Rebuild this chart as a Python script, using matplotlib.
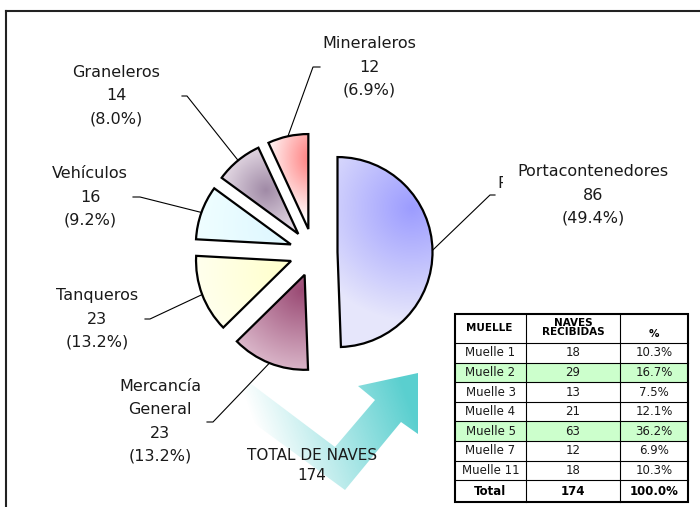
import numpy as np
import matplotlib
matplotlib.use('Agg')
import matplotlib.pyplot as plt
from matplotlib.patches import Polygon, Rectangle
from matplotlib.colors import to_rgb

# ---------------- data ----------------
categories = ['Portacontenedores', 'Mercancía\nGeneral', 'Tanqueros',
              'Vehículos', 'Graneleros', 'Mineraleros']
values = [86, 23, 23, 16, 14, 12]
total_label = 'TOTAL DE NAVES'

table_headers = ['MUELLE', 'NAVES\nRECIBIDAS', '%']
muelles = ['Muelle 1', 'Muelle 2', 'Muelle 3', 'Muelle 4', 'Muelle 5',
           'Muelle 7', 'Muelle 11']
naves = [18, 29, 13, 21, 63, 12, 18]
highlighted = ['Muelle 2', 'Muelle 5']

total = sum(values)

# ---------------- figure ----------------
W, H = 700, 507
fig = plt.figure(figsize=(7.0, 5.07), dpi=100)
ax = fig.add_axes([0, 0, 1, 1])


def Y(y):
    return H - y


xx, yy = np.meshgrid(np.arange(W) + 0.5, np.arange(H) + 0.5)


def rgba(c, a=1.0):
    return np.array(list(to_rgb(c)) + [a])


def radial(p, R, c0, c1, sx=1.0, sy=1.0):
    d = np.hypot((xx - p[0]) / sx, (yy - p[1]) / sy)
    t = np.clip(1 - d / R, 0, 1)[..., None]
    a, b = rgba(c0), rgba(c1)
    return a + (b - a) * t


def linear(p0, p1, c0, c1, a0=1.0, a1=1.0):
    dx, dy = p1[0] - p0[0], p1[1] - p0[1]
    t = ((xx - p0[0]) * dx + (yy - p0[1]) * dy) / (dx * dx + dy * dy)
    t = np.clip(t, 0, 1)[..., None]
    a, b = rgba(c0, a0), rgba(c1, a1)
    return a + (b - a) * t


def fill_image(img, clip_patch, z):
    im = ax.imshow(img, extent=(0, W, 0, H), origin='upper', aspect='auto',
                   interpolation='bilinear', zorder=z)
    im.set_clip_path(clip_patch)


# frame
ax.plot([6, 6], [Y(H), Y(11)], color='#222222', lw=1.5, zorder=1,
        solid_capstyle='projecting')
ax.plot([6, W], [Y(11), Y(11)], color='#222222', lw=1.5, zorder=1,
        solid_capstyle='projecting')

# arrow (gradient, behind everything else)
arrow_pts = [(250, 383), (335, 447), (375, 400), (358, 386), (418, 373),
             (418, 434), (401, 422), (345, 490), (229, 405)]
arrow = Polygon([(x, Y(y)) for x, y in arrow_pts], closed=True,
                facecolor='none', edgecolor='none', zorder=1)
ax.add_patch(arrow)
fill_image(linear((262, 445), (405, 392), '#5ACFCF', '#5ACFCF', 0.0, 1.0),
           arrow, 1)

# pie
wedges, _ = ax.pie(values, startangle=90, counterclock=False,
                   explode=[24] * len(values), radius=95,
                   center=(313.5, Y(252.5)), frame=True,
                   wedgeprops=dict(facecolor='none', edgecolor='black',
                                   linewidth=1.6, zorder=3))

fills = [
    radial((412, 208), 112, '#E6E6FB', '#9C9CFF'),    # Portacontenedores
    radial((302, 290), 85, '#DDBBCD', '#9A4A74'),     # Mercancia General
    radial((285, 272), 100, '#FFFFF2', '#FFFFCC'),    # Tanqueros
    radial((285, 225), 100, '#F2FFFF', '#DDF7FF'),    # Vehiculos
    radial((266, 190), 48, '#E8DEE8', '#A08AA6'),     # Graneleros
    radial((312, 158), 48, '#FFFFFF', '#FF7A7A', 1.0, 1.3),  # Mineraleros
]
for w, img in zip(wedges, fills):
    fill_image(img, w, 2)

# labels and leader lines
label_centers = [(593, 195), (160, 421.5), (97, 319), (90, 197), (116, 96),
                 (369, 67)]
leader_pts = [((490, 195), (495, 195)), ((213, 422), (207, 422)),
              ((150, 319), (145, 319)), ((140, 197), (133, 197)),
              ((187, 96), (182, 96)), ((313, 67), (320, 67))]
LS = 23.3
for w, cat, v, (cx, cy), (p1, p2) in zip(wedges, categories, values,
                                          label_centers, leader_pts):
    th = np.deg2rad(0.5 * (w.theta1 + w.theta2))
    mx = w.center[0] + w.r * np.cos(th)
    my = w.center[1] + w.r * np.sin(th)
    ax.plot([mx, p1[0], p2[0]], [my, Y(p1[1]), Y(p2[1])], color='black',
            lw=0.8, zorder=4)
    lines = cat.split('\n') + [str(v), '({:.1f}%)'.format(100 * v / total)]
    n = len(lines)
    for i, s in enumerate(lines):
        ax.text(cx, Y(cy + (i - (n - 1) / 2) * LS), s, ha='center',
                va='center', fontsize=11.5, color='#1a1a1a', zorder=5)

# clipped stray glyph near the Portacontenedores label
stray = ax.text(497.5, Y(183), categories[0][0], ha='left', va='center',
                fontsize=11.5, color='#1a1a1a', zorder=5, clip_on=True)
clip_r = Rectangle((495, Y(195)), 8.0, 30, transform=ax.transData,
                   facecolor='none', edgecolor='none')
stray.set_clip_path(clip_r)

# total
ax.text(312, Y(455), total_label, ha='center', va='center', fontsize=11,
        color='#1a1a1a', zorder=5)
ax.text(312, Y(475), str(total), ha='center', va='center', fontsize=11,
        color='#1a1a1a', zorder=5)

# ---------------- table ----------------
col_x = [455, 526, 620, 688]
top, head_bot = 314, 343
row_h = 19.6
rows_y = [head_bot + i * row_h for i in range(len(muelles) + 1)]
bottom = 502
rows_y.append(bottom)

ax.add_patch(Rectangle((col_x[0], Y(bottom)), col_x[-1] - col_x[0],
                       bottom - top, facecolor='white', edgecolor='none',
                       zorder=5))
for i, m in enumerate(muelles):
    if m in highlighted:
        ax.add_patch(Rectangle((col_x[0], Y(rows_y[i + 1])),
                               col_x[-1] - col_x[0], row_h,
                               facecolor='#CCFFCC', edgecolor='none',
                               zorder=6))
# inner lines
for yv in [head_bot] + rows_y[1:-1]:
    ax.plot([col_x[0], col_x[-1]], [Y(yv), Y(yv)], color='black', lw=0.8,
            zorder=7)
for xv in col_x[1:-1]:
    ax.plot([xv, xv], [Y(top), Y(bottom)], color='black', lw=0.8, zorder=7)
ax.add_patch(Rectangle((col_x[0], Y(bottom)), col_x[-1] - col_x[0],
                       bottom - top, facecolor='none', edgecolor='black',
                       lw=1.5, zorder=8))

ccx = [(col_x[i] + col_x[i + 1]) / 2 for i in range(3)]
ax.text(ccx[0] - 1, Y(328), table_headers[0], ha='center', va='center',
        fontsize=7.5, fontweight='bold', zorder=9)
ax.text(ccx[1], Y(327.5), table_headers[1], ha='center', va='center',
        fontsize=7.5, fontweight='bold', linespacing=0.95, zorder=9)
ax.text(ccx[2], Y(334), table_headers[2], ha='center', va='center',
        fontsize=7.5, fontweight='bold', zorder=9)
for i, (m, n) in enumerate(zip(muelles, naves)):
    yc = Y((rows_y[i] + rows_y[i + 1]) / 2)
    ax.text(ccx[0], yc, m, ha='center', va='center', fontsize=8.5,
            color='#1a1a1a', zorder=9)
    ax.text(ccx[1], yc, str(n), ha='center', va='center', fontsize=8.5,
            color='#1a1a1a', zorder=9)
    ax.text(ccx[2], yc, '{:.1f}%'.format(100 * n / sum(naves)), ha='center',
            va='center', fontsize=8.5, color='#1a1a1a', zorder=9)
yc = Y((rows_y[-2] + rows_y[-1]) / 2)
ax.text(ccx[0], yc, 'Total', ha='center', va='center', fontsize=8.5,
        fontweight='bold', zorder=9)
ax.text(ccx[1], yc, str(sum(naves)), ha='center', va='center', fontsize=8.5,
        fontweight='bold', zorder=9)
ax.text(ccx[2], yc, '{:.1f}%'.format(100.0), ha='center', va='center',
        fontsize=8.5, fontweight='bold', zorder=9)

ax.set_xlim(0, W)
ax.set_ylim(0, H)
ax.set_aspect('auto')
ax.axis('off')
fig.savefig('out.png', dpi=100)
